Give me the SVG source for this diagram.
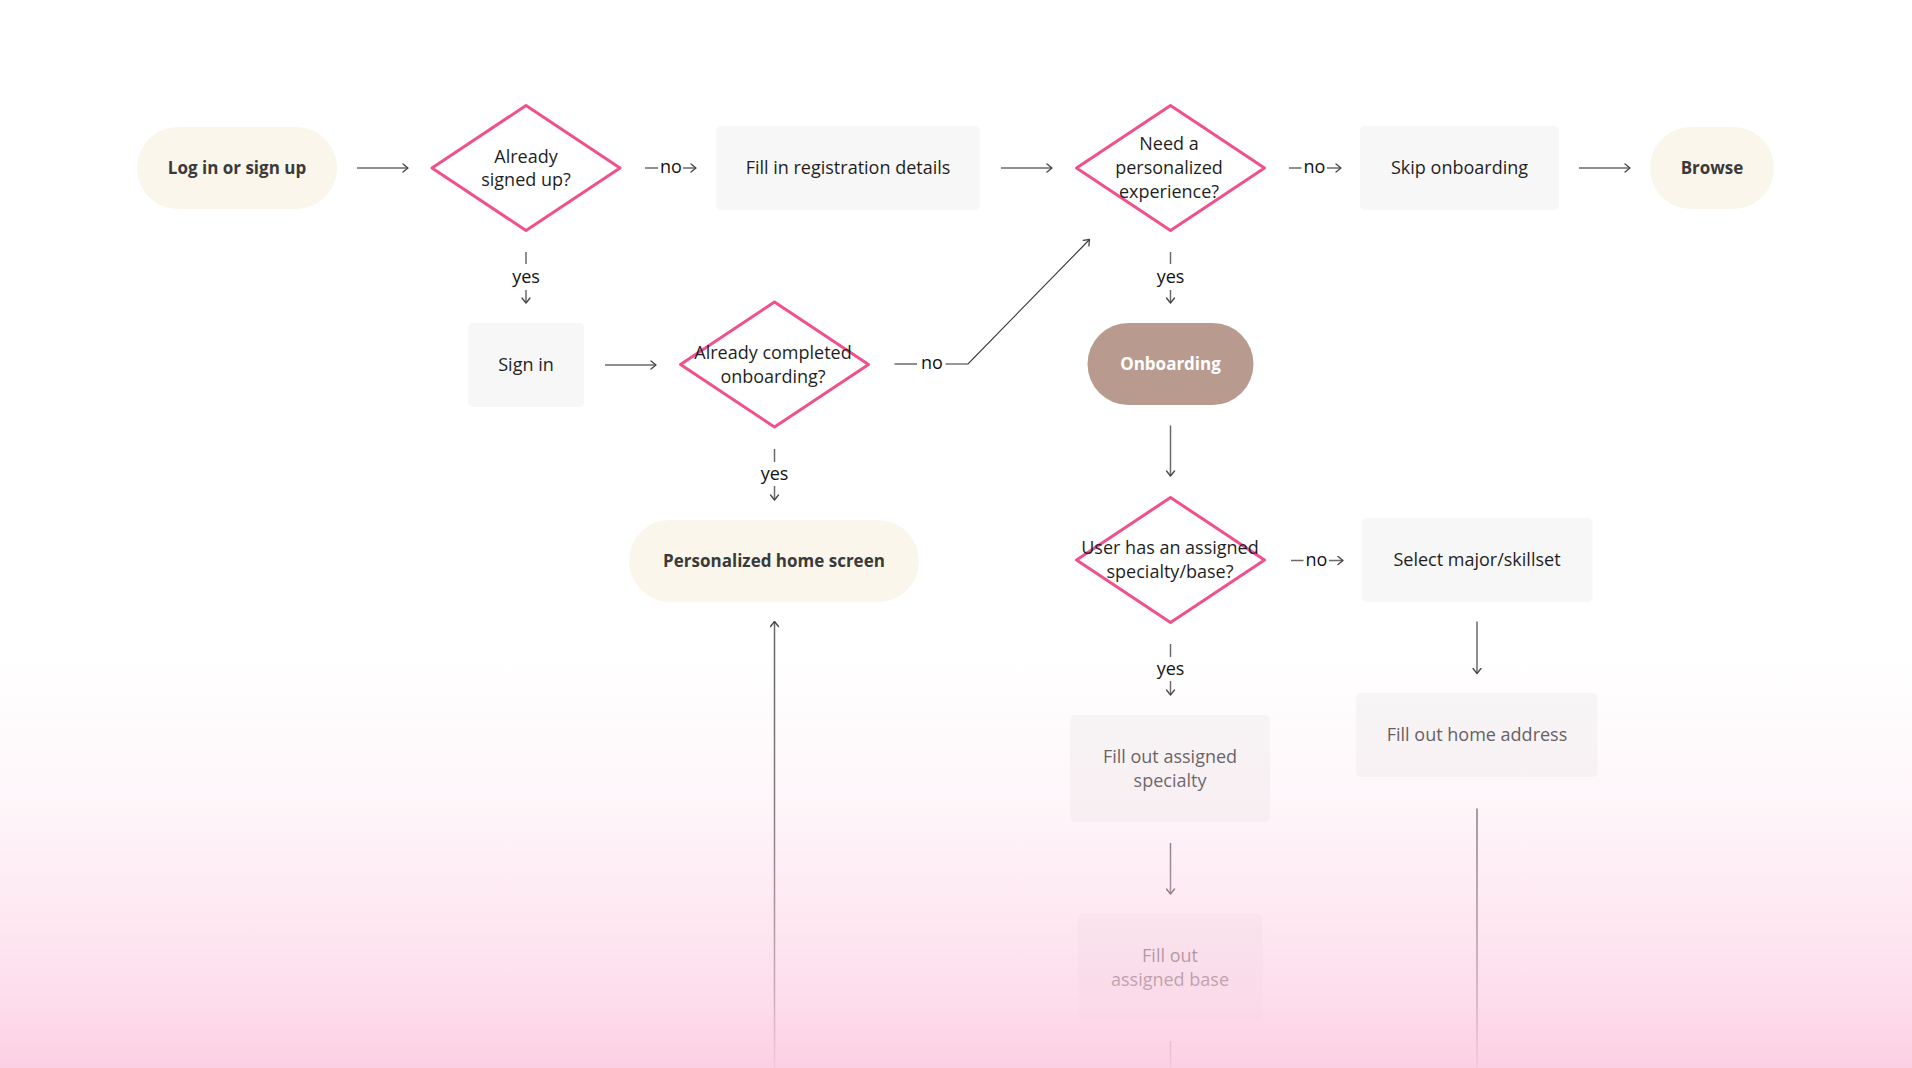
<svg xmlns="http://www.w3.org/2000/svg" width="1912" height="1068" viewBox="0 0 1912 1068">
<defs>
<style>
.t{font-family:"Open Sans","Noto Sans","Liberation Sans",sans-serif;font-size:18px;fill:#1f1f1f;text-anchor:middle}
.b{font-weight:700;font-size:17px;fill:#3a3a3a}
.w{fill:#ffffff}
.g{fill:#555555}
.pill{fill:#FAF6EC}
.box{fill:#F7F7F7}
.onb{fill:#B89A8E}
.dia{fill:#ffffff;stroke:#F0508C;stroke-width:3;stroke-linejoin:round}
.c{stroke:#6a6a6a;stroke-width:1.5;fill:none}
.a{marker-end:url(#ah)}
.lbl{font-family:"Open Sans","Noto Sans","Liberation Sans",sans-serif;font-size:18px;fill:#111111;text-anchor:middle}
.d{stroke:#333333;stroke-width:1.1;fill:none}
</style>
<marker id="ah" viewBox="-6 -5 7 10" markerWidth="7" markerHeight="10" refX="0" refY="0" orient="auto" markerUnits="userSpaceOnUse">
<path d="M-5,-4 L0,0 L-5,4" fill="none" stroke="#444444" stroke-width="1.3" stroke-linecap="round" stroke-linejoin="round"/>
</marker>
<linearGradient id="fade" x1="0" y1="0" x2="0" y2="1">
<stop offset="0" stop-color="#FCCDE2" stop-opacity="0"/>
<stop offset="0.1" stop-color="#FCCDE2" stop-opacity="0.05"/>
<stop offset="0.343" stop-color="#FCCDE2" stop-opacity="0.18"/>
<stop offset="0.588" stop-color="#FCCDE2" stop-opacity="0.42"/>
<stop offset="0.833" stop-color="#FCCDE2" stop-opacity="0.68"/>
<stop offset="1" stop-color="#FCCDE2" stop-opacity="0.95"/>
</linearGradient>
</defs>
<rect x="0" y="0" width="1912" height="1068" fill="#ffffff"/>

<g id="connectors">
<path class="c a" d="M357,168 H408"/>
<path class="c" d="M645,168 H658"/>
<text class="lbl" x="671" y="173">no</text>
<path class="c a" d="M683,168 H696"/>
<path class="c a" d="M1001,168 H1052"/>
<path class="c" d="M1289,168 H1301.5"/>
<text class="lbl" x="1314.5" y="173">no</text>
<path class="c a" d="M1327,168 H1341"/>
<path class="c a" d="M1579,168 H1630"/>
<path class="c" d="M526,252 V264"/>
<text class="lbl" x="526" y="283">yes</text>
<path class="c a" d="M526,290 V303"/>
<path class="c a" d="M605,365 H656"/>
<path class="c" d="M894.5,364 H917"/>
<text class="lbl" x="932" y="369">no</text>
<path class="d a" d="M945.5,364 H968 L1089.5,239.5"/>
<path class="c" d="M1170.5,252 V264"/>
<text class="lbl" x="1170.5" y="283">yes</text>
<path class="c a" d="M1170.5,290 V303"/>
<path class="c" d="M774.5,449 V462"/>
<text class="lbl" x="774.5" y="480">yes</text>
<path class="c a" d="M774.5,486 V500"/>
<path class="c a" d="M1170.5,425.5 V476"/>
<path class="c" d="M1291,560.5 H1303.5"/>
<text class="lbl" x="1316.5" y="565.5">no</text>
<path class="c a" d="M1329,560.5 H1343"/>
<path class="c" d="M1170.5,644 V657"/>
<text class="lbl" x="1170.5" y="675">yes</text>
<path class="c a" d="M1170.5,681 V695"/>
<path class="c a" d="M1477,621.5 V673.5"/>
<path class="c a" d="M1170.5,843 V894"/>
<path class="c" d="M1170.5,1041 V1068"/>
<path class="c" d="M1477,808.5 V1068"/>
<path class="c a" d="M774.5,1068 V621.5"/>
</g>

<g id="login">
<rect class="pill" x="137" y="127" width="200" height="82" rx="41"/>
<text class="t b" x="237" y="174">Log in or sign up</text>
</g>
<g id="signed-up">
<path class="dia" d="M432,168 L526,105.5 L620,168 L526,230.5 Z"/>
<text class="t" x="526" y="163">Already</text>
<text class="t" x="526" y="186">signed up?</text>
</g>
<g id="registration">
<rect class="box" x="716" y="126" width="264" height="84" rx="5"/>
<text class="t" x="848" y="174">Fill in registration details</text>
</g>
<g id="need-personalized">
<path class="dia" d="M1076.5,168 L1170.5,105.5 L1264.5,168 L1170.5,230.5 Z"/>
<text class="t" x="1169" y="150">Need a</text>
<text class="t" x="1169" y="174">personalized</text>
<text class="t" x="1169" y="198">experience?</text>
</g>
<g id="skip-onboarding">
<rect class="box" x="1360" y="126" width="199" height="84" rx="5"/>
<text class="t" x="1459.5" y="174">Skip onboarding</text>
</g>
<g id="browse">
<rect class="pill" x="1650" y="127" width="124" height="82" rx="41"/>
<text class="t b" x="1712" y="174">Browse</text>
</g>
<g id="sign-in">
<rect class="box" x="468" y="323" width="116" height="84" rx="5"/>
<text class="t" x="526" y="371">Sign in</text>
</g>
<g id="completed-onboarding">
<path class="dia" d="M680.5,364.5 L774.5,302 L868.5,364.5 L774.5,427 Z"/>
<text class="t" x="773" y="359">Already completed</text>
<text class="t" x="773" y="383">onboarding?</text>
</g>
<g id="onboarding">
<rect class="onb" x="1087.5" y="323" width="166" height="82" rx="41"/>
<text class="t b w" x="1170.5" y="370">Onboarding</text>
</g>
<g id="home-screen">
<rect class="pill" x="629" y="520" width="290" height="82" rx="41"/>
<text class="t b" x="774" y="567">Personalized home screen</text>
</g>
<g id="assigned-specialty">
<path class="dia" d="M1076.5,560 L1170.5,497.5 L1264.5,560 L1170.5,622.5 Z"/>
<text class="t" x="1170" y="554">User has an assigned</text>
<text class="t" x="1170" y="578">specialty/base?</text>
</g>
<g id="select-major">
<rect class="box" x="1361.5" y="518" width="231" height="84" rx="5"/>
<text class="t" x="1477" y="566">Select major/skillset</text>
</g>
<g id="home-address">
<rect class="box" x="1356" y="693" width="241.5" height="84" rx="5"/>
<text class="t g" x="1477" y="741">Fill out home address</text>
</g>
<g id="fill-specialty">
<rect class="box" x="1070" y="715" width="200" height="107" rx="5"/>
<text class="t g" x="1170" y="763">Fill out assigned</text>
<text class="t g" x="1170" y="787">specialty</text>
</g>
<g id="fill-base">
<rect class="box" x="1078" y="913.5" width="184.5" height="106" rx="5"/>
<text class="t g" x="1170" y="962">Fill out</text>
<text class="t g" x="1170" y="986">assigned base</text>
</g>

<rect x="0" y="660" width="1912" height="408" fill="url(#fade)"/>
</svg>
